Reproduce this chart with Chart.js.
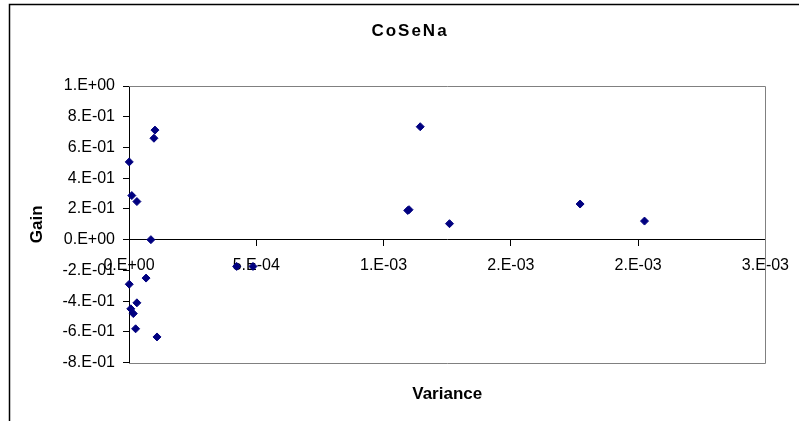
<!DOCTYPE html>
<html>
<head>
  <title>CoSeNa</title>
  <script src="https://cdn.jsdelivr.net/npm/chart.js"></script>
  <style>
    body { margin: 0; background: #fff; }
    canvas { display: block; }
  </style>
</head>
<body>
  <canvas id="chart" width="799" height="421"></canvas>

  <script>
    const chartTitle = "CoSeNa";
    const xTitle = "Variance";
    const yTitle = "Gain";

    // variance / gain pairs
    const variance = [1.02e-4, 0.98e-4, 1e-6, 1.1e-5, 3.1e-5, 8.6e-5, 6.7e-5, 1e-6, 3.1e-5, 7e-6,
                      1.7e-5, 2.6e-5, 1.1e-4, 4.23e-4, 4.87e-4, 1.144e-3, 1.095e-3, 1.1e-3,
                      1.259e-3, 1.772e-3, 2.025e-3];
    const gain = [0.713, 0.66, 0.506, 0.287, 0.248, 0.0, -0.25, -0.29, -0.411, -0.45,
                  -0.481, -0.58, -0.633, -0.174, -0.174, 0.735, 0.19, 0.195,
                  0.104, 0.232, 0.121];

    const xTickLabels = ["0.E+00", "5.E-04", "1.E-03", "2.E-03", "2.E-03", "3.E-03"];
    const yTickLabels = ["-8.E-01", "-6.E-01", "-4.E-01", "-2.E-01", "0.E+00",
                         "2.E-01", "4.E-01", "6.E-01", "8.E-01", "1.E+00"];

    Chart.defaults.font.family = "'Liberation Sans', Arial, sans-serif";
    Chart.defaults.color = "#000";

    // excel style frame, plot border and title
    const excelBits = {
      id: "excelBits",
      beforeDraw(chart) {
        const ctx = chart.ctx;
        ctx.save();
        ctx.strokeStyle = "#000";
        ctx.lineWidth = 1.5;
        ctx.beginPath();
        ctx.moveTo(9.5, chart.height);
        ctx.lineTo(9.5, 4.5);
        ctx.lineTo(chart.width, 4.5);
        ctx.stroke();
        ctx.restore();
      },
      beforeDatasetsDraw(chart) {
        const a = chart.chartArea;
        const ctx = chart.ctx;
        ctx.save();
        ctx.strokeStyle = "#808080";
        ctx.lineWidth = 1;
        ctx.beginPath();
        ctx.moveTo(a.left, Math.round(a.top) + 0.5);
        ctx.lineTo(Math.round(a.right) + 0.5, Math.round(a.top) + 0.5);
        ctx.lineTo(Math.round(a.right) + 0.5, Math.round(a.bottom) + 0.5);
        ctx.lineTo(a.left, Math.round(a.bottom) + 0.5);
        ctx.stroke();

        ctx.fillStyle = "#000";
        ctx.font = "bold 17px 'Liberation Sans', Arial, sans-serif";
        ctx.letterSpacing = "2px";
        ctx.textAlign = "center";
        ctx.textBaseline = "middle";
        ctx.fillText(chartTitle, 410, 31);
        ctx.restore();
      }
    };

    new Chart(document.getElementById("chart"), {
      type: "scatter",
      data: {
        datasets: [{
          label: chartTitle,
          data: variance.map((v, i) => ({ x: v, y: gain[i] })),
          pointStyle: "rectRot",
          pointRadius: 4,
          backgroundColor: "#000080",
          borderColor: "#000080",
          borderWidth: 1,
          clip: false
        }]
      },
      options: {
        responsive: false,
        animation: false,
        layout: { padding: { left: 9, top: 86, right: 30, bottom: 16 } },
        plugins: {
          legend: { display: false },
          tooltip: { enabled: false }
        },
        scales: {
          x: {
            type: "linear",
            position: { y: 0 },
            min: 0,
            max: 0.0025,
            grid: { drawOnChartArea: false, drawTicks: true, tickLength: 6, color: "#000" },
            border: { color: "#000", width: 1 },
            ticks: {
              stepSize: 0.0005,
              padding: 10,
              maxRotation: 0,
              font: { size: 16 },
              callback: (v, i) => xTickLabels[i]
            }
          },
          xTitle: {
            type: "linear",
            axis: "x",
            position: "bottom",
            min: 0,
            max: 0.0025,
            grid: { display: false, drawTicks: false },
            border: { display: false },
            ticks: { display: false },
            title: {
              display: true,
              text: xTitle,
              font: { size: 17, weight: "bold" },
              padding: { top: 22, bottom: 0 }
            }
          },
          y: {
            type: "linear",
            position: "left",
            min: -0.8,
            max: 1.0,
            grid: { drawOnChartArea: false, drawTicks: true, tickLength: 6, color: "#000" },
            border: { color: "#000", width: 1 },
            ticks: {
              stepSize: 0.2,
              padding: 8,
              font: { size: 16 },
              callback: (v, i) => yTickLabels[i]
            },
            title: {
              display: true,
              text: yTitle,
              font: { size: 17, weight: "bold" },
              padding: { top: 18, bottom: 0 }
            },
            afterFit: s => { s.width = 120; }
          }
        }
      },
      plugins: [excelBits]
    });
  </script>
</body>
</html>
